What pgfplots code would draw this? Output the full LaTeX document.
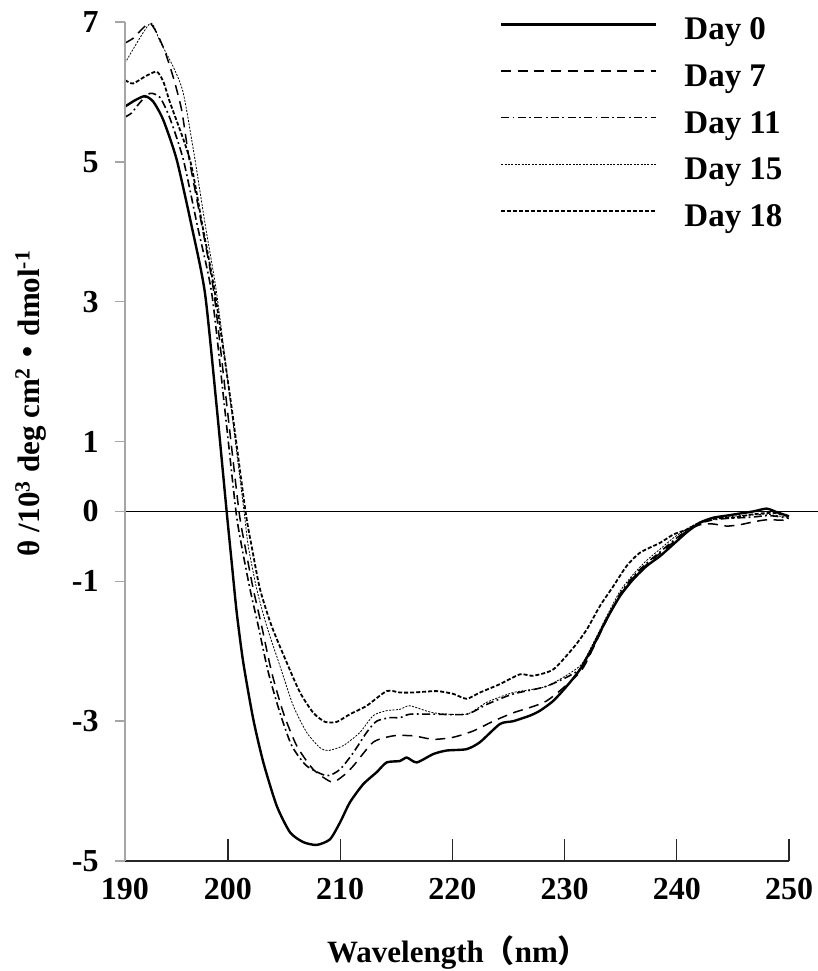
\documentclass[border=0pt]{standalone}
\usepackage{fontspec}
\setmainfont{Liberation Serif}
\newfontfamily\cjk{Noto Sans CJK SC}
\usepackage{pgfplots}
\pgfplotsset{compat=1.18}
\begin{document}
\begin{tikzpicture}
\begin{axis}[
  scale only axis, width=332pt, height=419.5pt,
  xmin=190.82, xmax=250, ymin=-5, ymax=7,
  clip=false,
  axis x line*=bottom, axis y line=none,
  xtick={190.82,200,210,220,230,240,250},
  xticklabels={190,200,210,220,230,240,250},
  tick align=inside, major tick length=11pt,
  xtick style={draw=black!85, line width=0.6pt},
  x axis line style={draw=black!85, line width=0.8pt},
  xticklabel style={font=\fontsize{16}{16}\selectfont\bfseries, yshift=-5pt},
  xlabel={Wavelength{\cjk （}nm{\cjk ）}},
  every axis x label/.style={at={(axis description cs:0.5015,-0.109)}, anchor=center, font=\fontsize{15.5}{15.5}\selectfont\bfseries},
  legend cell align=left,
  legend image code/.code={\draw[#1] (0pt,3.75pt) -- (77.5pt,3.75pt);},
  legend style={draw=none, fill=none, inner sep=0pt, outer sep=0pt,
    at={(axis description cs:0.5648,1.0074)}, anchor=north west,
    font=\fontsize{16.5}{16.5}\selectfont\bfseries, row sep=7.3pt,
    nodes={inner sep=0pt, text height=12pt, text depth=4pt},
    /tikz/every odd column/.append style={column sep=13.5pt}},
]
\addplot[black, line width=1.2pt, smooth, tension=0.4] coordinates {
(190.82,5.79) (191.71,5.88) (192.60,5.94) (193.34,5.86) (194.23,5.60) (195.43,5.03) (196.76,4.08) (197.95,3.12) (198.99,1.50) (199.88,0.0) (200.33,-0.73) (200.78,-1.45) (201.36,-2.16) (202.25,-2.97) (203.15,-3.59) (204.34,-4.21) (205.53,-4.59) (206.71,-4.73) (207.91,-4.77) (209.09,-4.69) (209.98,-4.45) (210.87,-4.16) (212.06,-3.90) (213.25,-3.73) (214.14,-3.59) (215.33,-3.57) (215.93,-3.52) (216.82,-3.59) (218.30,-3.47) (219.49,-3.42) (221.27,-3.40) (222.46,-3.30) (224.24,-3.04) (225.43,-3.00) (226.92,-2.92) (227.81,-2.85) (228.99,-2.71) (230.19,-2.50) (231.37,-2.26) (232.56,-1.92) (233.75,-1.54) (234.94,-1.21) (236.12,-0.97) (237.32,-0.78) (238.50,-0.64) (239.69,-0.47) (240.88,-0.30) (242.07,-0.16) (243.25,-0.09) (244.45,-0.06) (245.63,-0.03) (246.82,0.00) (248.01,0.04) (248.90,-0.01) (250.00,-0.07)
};
\addlegendentry{Day 0}
\addplot[black, line width=0.75pt, dash pattern=on 5pt off 3.3pt, smooth, tension=0.4] coordinates {
(190.82,6.70) (191.57,6.77) (193.05,6.98) (194.23,6.64) (195.12,6.21) (195.87,5.74) (196.55,5.03) (197.68,4.08) (198.75,3.12) (199.91,1.50) (200.98,0.0) (201.52,-0.50) (202.25,-1.11) (203.00,-1.64) (203.89,-2.30) (204.93,-2.88) (206.12,-3.35) (207.60,-3.69) (209.24,-3.87) (210.28,-3.78) (211.17,-3.64) (212.95,-3.30) (214.73,-3.21) (216.52,-3.21) (218.30,-3.26) (220.08,-3.23) (221.86,-3.14) (223.65,-3.00) (225.43,-2.88) (228.40,-2.71) (231.37,-2.30) (232.56,-1.95) (233.75,-1.55) (234.94,-1.20) (236.12,-0.95) (237.32,-0.76) (238.50,-0.60) (239.69,-0.44) (240.88,-0.28) (242.07,-0.19) (243.25,-0.18) (244.45,-0.21) (245.63,-0.19) (246.82,-0.15) (248.01,-0.12) (250.00,-0.13)
};
\addlegendentry{Day 7}
\addplot[black, line width=0.8pt, dash pattern=on 4pt off 1.7pt on 0.9pt off 1.7pt, smooth, tension=0.4] coordinates {
(190.82,5.64) (191.41,5.70) (192.16,5.85) (193.05,5.98) (193.94,5.92) (194.83,5.62) (196.02,5.03) (197.28,4.08) (198.55,3.12) (199.69,1.50) (200.71,0.0) (201.22,-0.50) (201.96,-1.11) (202.70,-1.64) (203.59,-2.30) (204.63,-2.88) (205.68,-3.35) (207.01,-3.64) (208.80,-3.78) (209.98,-3.69) (211.17,-3.45) (212.36,-3.16) (213.25,-3.00) (214.44,-2.95) (215.33,-2.95) (216.22,-2.90) (218.30,-2.90) (221.27,-2.90) (223.06,-2.76) (225.43,-2.61) (228.40,-2.50) (231.37,-2.26) (232.56,-1.93) (233.75,-1.55) (234.94,-1.18) (236.12,-0.93) (237.32,-0.74) (238.50,-0.58) (239.69,-0.42) (240.88,-0.27) (242.07,-0.17) (243.25,-0.12) (244.45,-0.10) (245.63,-0.09) (246.82,-0.08) (248.01,-0.06) (248.90,-0.07) (250.00,-0.10)
};
\addlegendentry{Day 11}
\addplot[black, line width=0.4pt, dash pattern=on 1pt off 0.7pt, smooth, tension=0.4] coordinates {
(190.82,6.41) (193.05,6.98) (193.94,6.72) (195.12,6.36) (196.02,5.98) (197.06,5.03) (197.99,4.08) (198.99,3.12) (200.27,1.50) (201.43,0.0) (201.81,-0.50) (202.56,-1.11) (203.45,-1.64) (204.63,-2.21) (205.82,-2.78) (207.01,-3.16) (208.20,-3.38) (208.94,-3.42) (210.28,-3.35) (211.76,-3.16) (212.95,-2.92) (214.14,-2.85) (215.33,-2.83) (216.22,-2.78) (218.30,-2.88) (221.27,-2.90) (223.06,-2.73) (225.43,-2.59) (228.40,-2.50) (231.37,-2.21) (232.56,-1.88) (233.75,-1.50) (234.94,-1.14) (236.12,-0.90) (237.32,-0.70) (238.50,-0.54) (239.69,-0.38) (240.88,-0.25) (242.07,-0.15) (243.25,-0.10) (244.45,-0.08) (245.63,-0.06) (246.82,-0.05) (248.01,-0.04) (248.90,-0.06) (250.00,-0.09)
};
\addlegendentry{Day 15}
\addplot[black, line width=0.9pt, dash pattern=on 2pt off 1pt, smooth, tension=0.4] coordinates {
(190.82,6.17) (191.53,6.12) (192.60,6.22) (193.64,6.29) (194.23,6.15) (194.83,5.85) (196.61,5.03) (197.73,4.08) (198.84,3.12) (200.31,1.50) (201.56,0.0) (202.11,-0.50) (202.85,-1.11) (203.89,-1.64) (205.23,-2.16) (206.42,-2.59) (207.60,-2.88) (208.65,-3.01) (209.69,-3.01) (210.87,-2.90) (212.36,-2.78) (214.14,-2.57) (215.33,-2.59) (216.52,-2.59) (218.60,-2.57) (220.08,-2.61) (221.27,-2.68) (222.46,-2.59) (224.24,-2.47) (226.02,-2.33) (227.21,-2.35) (228.99,-2.26) (230.78,-1.95) (231.97,-1.69) (233.16,-1.35) (234.34,-1.07) (235.53,-0.78) (236.72,-0.59) (238.50,-0.45) (239.69,-0.33) (240.88,-0.26) (242.07,-0.16) (243.55,-0.10) (245.04,-0.09) (246.82,-0.04) (248.60,-0.02) (250.00,-0.07)
};
\addlegendentry{Day 18}
\draw[black, line width=0.8pt] (axis cs:190.82,0) -- (axis cs:252.6,0);
\end{axis}
\begin{axis}[
  scale only axis, width=332pt, height=419.5pt,
  xmin=190.82, xmax=250, ymin=-5, ymax=7,
  axis x line=none, axis y line*=left,
  xtick=\empty,
  ytick={-5,-3,-1,0,1,3,5,7},
  yticklabels={-5,-3,-1,0,1,3,5,7},
  tick align=outside, major tick length=5pt,
  ytick style={draw=gray!70, line width=0.8pt},
  y axis line style={draw=gray!70, line width=0.8pt},
  yticklabel style={font=\fontsize{16}{16}\selectfont\bfseries, xshift=-4.7pt},
  ylabel={θ /10\textsuperscript{3} deg cm\textsuperscript{2}{\cjk ・}dmol\textsuperscript{-1}},
  every axis y label/.style={at={(axis description cs:-0.1416,0.5459)}, rotate=90, anchor=center, font=\fontsize{15.5}{15.5}\selectfont\bfseries},
]
\end{axis}
\pgfresetboundingbox
\path[use as bounding box] (-62.5pt,-55pt) rectangle (346.5pt,430.5pt);
\end{tikzpicture}
\end{document}
